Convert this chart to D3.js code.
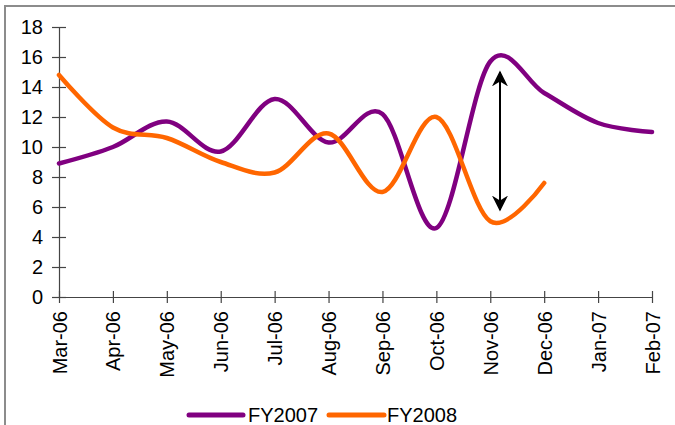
<!DOCTYPE html>
<html>
<head>
<meta charset="utf-8">
<script src="https://cdn.jsdelivr.net/npm/d3@7"></script>
<style>
  html, body { margin: 0; padding: 0; background: #fff; }
  svg { display: block; font-family: "Liberation Sans", Arial, sans-serif; }
</style>
</head>
<body>
<svg id="chart" width="675" height="425"></svg>
<script>
const months = ["Mar-06","Apr-06","May-06","Jun-06","Jul-06","Aug-06","Sep-06","Oct-06","Nov-06","Dec-06","Jan-07","Feb-07"];
const fy2007 = [8.9, 10.0, 11.7, 9.7, 13.2, 10.3, 12.2, 4.6, 15.7, 13.6, 11.6, 11.0];
const fy2008 = [14.8, 11.3, 10.6, 9.0, 8.3, 10.9, 7.0, 12.0, 5.05, 7.6];
const yTicks = [0, 2, 4, 6, 8, 10, 12, 14, 16, 18];
const seriesNames = ["FY2007", "FY2008"];
const seriesColors = ["#800080", "#FF6600"];
// arrow annotation: month index (fractional) and value range
const arrowAt = [8.18];
const arrowRange = [15.0, 5.8];

(function () {
const svg = d3.select("#chart");
const pLeft = 59, pRight = 652, pTop = 27, pBottom = 297;
const fs = 20;

// frame
svg.append("rect").attr("x", 5).attr("y", 6).attr("width", 720).attr("height", 460)
  .attr("fill", "none").attr("stroke", "#8c8c8c").attr("stroke-width", 2);

const x = d3.scalePoint().domain(months).range([pLeft, pRight]);
const xi = d3.scaleLinear().domain([0, months.length - 1]).range([pLeft, pRight]);
const y = d3.scaleLinear().domain([0, 18]).range([pBottom, pTop]);

// y axis
const yAxis = svg.append("g").attr("transform", `translate(${pLeft},0)`)
  .call(d3.axisLeft(y).tickValues(yTicks).tickSizeInner(7).tickSizeOuter(0).tickPadding(9));
yAxis.selectAll(".tick line").attr("x2", 7).attr("x1", -7);
yAxis.select(".domain").attr("stroke", "#444").attr("stroke-width", 1.2);
yAxis.selectAll(".tick line").attr("stroke", "#444").attr("stroke-width", 1.2);
yAxis.selectAll("text").attr("font-size", fs).attr("fill", "#000")
  .attr("font-family", "Liberation Sans, Arial, sans-serif");

// x axis
const xAxis = svg.append("g").attr("transform", `translate(0,${pBottom})`)
  .call(d3.axisBottom(x).tickSizeInner(6).tickSizeOuter(0));
xAxis.selectAll(".tick line").attr("y1", -6).attr("y2", 6).attr("stroke", "#444").attr("stroke-width", 1.2);
xAxis.select(".domain").attr("stroke", "#444").attr("stroke-width", 1.2);
xAxis.selectAll("text")
  .attr("font-size", fs).attr("fill", "#000")
  .attr("font-family", "Liberation Sans, Arial, sans-serif")
  .attr("transform", "rotate(-90)")
  .attr("text-anchor", "end")
  .attr("x", -14).attr("y", 0).attr("dy", "0.35em");

// lines
const line = d3.line()
  .x((d, i) => x(months[i]))
  .y(d => y(d))
  .curve(d3.curveCatmullRom.alpha(0));

[fy2007, fy2008].forEach((vals, k) => {
  svg.append("path").datum(vals)
    .attr("d", line)
    .attr("fill", "none")
    .attr("stroke", seriesColors[k])
    .attr("stroke-width", 4.5)
    .attr("stroke-linejoin", "round")
    .attr("stroke-linecap", "round");
});

// arrow
const defs = svg.append("defs");
defs.append("marker").attr("id", "ah").attr("viewBox", "0 0 10 10")
  .attr("refX", 9).attr("refY", 5).attr("markerWidth", 16).attr("markerHeight", 16)
  .attr("markerUnits", "userSpaceOnUse").attr("orient", "auto-start-reverse")
  .append("path").attr("d", "M0,0 L10,5 L0,10 L3,5 Z").attr("fill", "#000");

svg.append("line")
  .attr("x1", xi(arrowAt[0])).attr("x2", xi(arrowAt[0]))
  .attr("y1", y(arrowRange[0])).attr("y2", y(arrowRange[1]))
  .attr("stroke", "#000").attr("stroke-width", 2)
  .attr("marker-start", "url(#ah)").attr("marker-end", "url(#ah)");

// legend
const legendItems = [
  { x1: 189, x2: 243, tx: 248 },
  { x1: 329, x2: 384, tx: 387 }
];
legendItems.forEach((it, k) => {
  svg.append("line").attr("x1", it.x1).attr("x2", it.x2).attr("y1", 415).attr("y2", 415)
    .attr("stroke", seriesColors[k]).attr("stroke-width", 5).attr("stroke-linecap", "round");
  svg.append("text").attr("x", it.tx).attr("y", 415).attr("dy", "0.35em")
    .attr("font-size", fs).attr("fill", "#000").text(seriesNames[k]);
});
})();
</script>
</body>
</html>
